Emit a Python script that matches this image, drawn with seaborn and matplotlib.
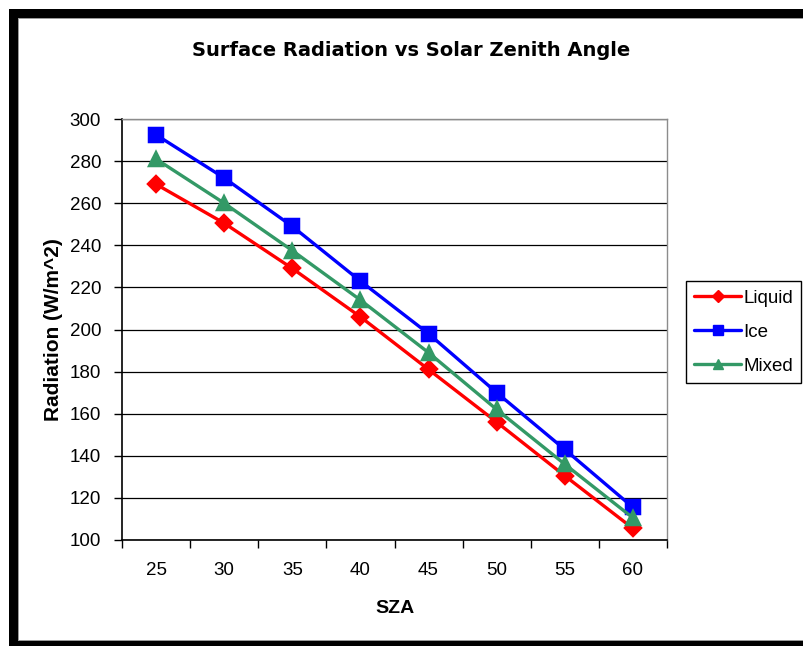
import matplotlib
matplotlib.use("Agg")
import matplotlib.pyplot as plt
from matplotlib.lines import Line2D
from matplotlib.patches import Rectangle
import pandas as pd
import seaborn as sns

# Solar zenith angles (degrees) and surface radiation (W/m^2) per cloud phase
sza = [25, 30, 35, 40, 45, 50, 55, 60]
liquid = [269, 250.5, 229, 206, 181, 156, 130.5, 105.5]
ice = [292.5, 272, 249, 223, 198, 170, 143, 115.5]
mixed = [281, 260, 237.5, 214, 189, 162, 136, 110.5]

series_names = ["Liquid", "Ice", "Mixed"]
series_colors = ["#FF0000", "#0000FF", "#339966"]
series_markers = ["D", "s", "^"]
series_sizes = [8.5, 9.5, 10]

y_ticks = list(range(100, 301, 20))

df = pd.DataFrame({
    "SZA": [str(a) for a in sza] * 3,
    "Radiation": liquid + ice + mixed,
    "Phase": [n for n in series_names for _ in sza],
})

sns.set_theme(style="white")
plt.rcParams["font.family"] = ["Liberation Sans", "DejaVu Sans"]
plt.rcParams.update({"text.color": "black", "axes.labelcolor": "black",
                     "xtick.color": "black", "ytick.color": "black"})

W, H = 804, 646
fig = plt.figure(figsize=(W / 100, H / 100), dpi=100)
fig.patch.set_facecolor("white")

ax = fig.add_axes([122 / W, 1 - 540 / H, 545 / W, 421 / H])

for name, color, marker, ms in zip(series_names, series_colors, series_markers, series_sizes):
    sub = df[df["Phase"] == name]
    sns.pointplot(data=sub, x="SZA", y="Radiation", order=[str(a) for a in sza],
                  color=color, markers=marker, linestyles="-", errorbar=None,
                  markersize=ms, linewidth=2.4, ax=ax, legend=False)

ax.set_xlim(-0.5, len(sza) - 0.5)
ax.set_ylim(100, 300)
ax.set_yticks(y_ticks)
ax.set_yticklabels([str(v) for v in y_ticks])
ax.yaxis.grid(True, color="black", linewidth=0.9)
ax.xaxis.grid(False)
ax.set_axisbelow(True)

# category boundaries carry the x tick marks
ax.set_xticks([i - 0.5 for i in range(len(sza) + 1)], minor=True)
ax.tick_params(axis="x", which="major", length=0, pad=16, labelsize=13.5, colors="black")
ax.tick_params(axis="x", which="minor", length=6, width=1, color="black", direction="out", bottom=True)
ax.tick_params(axis="y", which="major", length=6, width=1, colors="black", direction="out",
               pad=9, labelsize=13.5, left=True)

for side in ("left", "bottom"):
    ax.spines[side].set_color("black")
    ax.spines[side].set_linewidth(1.2)
for side in ("top", "right"):
    ax.spines[side].set_visible(True)
    ax.spines[side].set_color("#8c8c8c")
    ax.spines[side].set_linewidth(1.0)

ax.set_xlabel("SZA", fontsize=14, fontweight="bold", labelpad=15, color="black")
ax.set_ylabel("Radiation (W/m^2)", fontsize=15, fontweight="bold", labelpad=5, color="black")

fig.text(411 / W, 1 - 51 / H, "Surface Radiation vs Solar Zenith Angle",
         ha="center", va="center", fontsize=14, fontweight="bold",
         family=["DejaVu Sans"], color="black")

handles = [Line2D([], [], color=c, marker=m, markersize=s * 0.75, linewidth=2.4)
           for c, m, s in zip(series_colors, series_markers, series_sizes)]
leg = fig.legend(handles, series_names, loc="upper left",
                 bbox_to_anchor=(686 / W, 1 - 281 / H), fontsize=13.5,
                 frameon=True, fancybox=False, framealpha=1, edgecolor="black",
                 handlelength=2.5, handletextpad=0.1, labelspacing=0.9,
                 borderpad=0.45, borderaxespad=0)
leg.get_frame().set_linewidth(1.0)
for t in leg.get_texts():
    t.set_color("black")

# black chart frame along the top, left and bottom edges
def px_rect(x0, y0, x1, y1, color):
    fig.patches.append(Rectangle((x0 / W, 1 - y1 / H), (x1 - x0) / W, (y1 - y0) / H,
                                 transform=fig.transFigure, facecolor=color,
                                 edgecolor="none", zorder=10))

px_rect(9, 9, W, 18, "black")
px_rect(9, 9, 18, H, "black")
px_rect(9, 641, W, H, "black")
px_rect(18, 18, W, 19, "#9a9a9a")
px_rect(18, 18, 19, 641, "#9a9a9a")
px_rect(18, 640, W, 641, "#9a9a9a")

fig.savefig("out.png", dpi=100)
